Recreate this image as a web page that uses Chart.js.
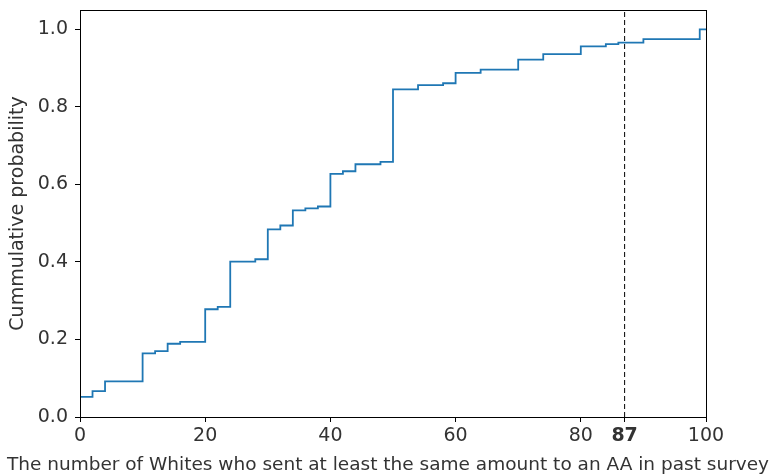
<!DOCTYPE html>
<html lang="en">
<head>
  <meta charset="UTF-8" />
  <title>Cumulative probability</title>
  <script src="https://cdn.jsdelivr.net/npm/chart.js"></script>
  <style>
    body {
      margin: 0;
      background: #fff;
    }
    #wrap {
      width: 776px;
      height: 475px;
    }
  </style>
</head>
<body>
  <div id="wrap">
    <canvas id="ecdf" width="776" height="475"></canvas>
  </div>

  <script>
    // step positions (x) and cumulative probability after each step
    const stepX = [0, 2, 4, 10, 12, 14, 16, 20, 22, 24, 28, 30, 32, 34, 36, 38, 40, 42, 44, 48,
                   50, 54, 58, 60, 64, 70, 74, 80, 84, 86, 90, 99, 100];
    const stepY = [0.052, 0.067, 0.092, 0.164, 0.170, 0.189, 0.194, 0.278, 0.284, 0.401, 0.407,
                   0.484, 0.494, 0.533, 0.538, 0.543, 0.627, 0.634, 0.652, 0.658, 0.845, 0.856,
                   0.861, 0.888, 0.896, 0.922, 0.936, 0.956, 0.962, 0.966, 0.975, 1.0, 1.0];

    const markerX = 87;
    const xTicks = [0, 20, 40, 60, 80, 87, 100];
    const yTicks = [0, 0.2, 0.4, 0.6, 0.8, 1.0];
    const yMax = 1.05;

    const xTitle = "The number of Whites who sent at least the same amount to an AA in past survey";

    const font = "'DejaVu Sans', sans-serif";
    const textColor = "#333";

    // box around the plot area + x title (drawn by hand so it may run wider than the axis)
    const frame = {
      id: "frame",
      afterDatasetsDraw(chart) {
        const a = chart.chartArea;
        const c = chart.ctx;
        c.save();
        c.strokeStyle = "#000";
        c.lineWidth = 1;
        c.strokeRect(a.left + 0.5, a.top + 0.5, a.right - a.left, a.bottom - a.top);
        c.fillStyle = textColor;
        c.font = "18.5px " + font;
        c.textAlign = "center";
        c.textBaseline = "alphabetic";
        c.fillText(xTitle, (a.left + a.right) / 2 - 5, 470);
        c.restore();
      }
    };

    new Chart(document.getElementById("ecdf"), {
      type: "line",
      data: {
        datasets: [
          {
            data: stepX.map((x, i) => ({ x: x, y: stepY[i] })),
            stepped: "before",
            borderColor: "#1f77b4",
            borderWidth: 1.8,
            pointRadius: 0,
            fill: false
          },
          {
            data: [{ x: markerX, y: 0 }, { x: markerX, y: yMax }],
            borderColor: "#000",
            borderWidth: 1,
            borderDash: [5, 3],
            pointRadius: 0,
            fill: false
          }
        ]
      },
      options: {
        responsive: false,
        animation: false,
        layout: { padding: { left: 0, right: 70, top: 10, bottom: 0 } },
        plugins: {
          legend: { display: false },
          tooltip: { enabled: false }
        },
        scales: {
          x: {
            type: "linear",
            min: 0,
            max: 100,
            afterBuildTicks: s => { s.ticks = xTicks.map(v => ({ value: v })); },
            afterFit: s => { s.height = 58; s.paddingLeft = 0; s.paddingRight = 0; },
            grid: { drawOnChartArea: false, drawTicks: true, tickLength: 5, color: "#000" },
            border: { display: true, color: "#000" },
            ticks: {
              color: textColor,
              padding: 3,
              maxRotation: 0,
              autoSkip: false,
              font: ctx => ({
                family: font,
                size: 19,
                weight: ctx.tick && ctx.tick.value === markerX ? "bold" : "normal"
              })
            }
          },
          y: {
            min: 0,
            max: yMax,
            afterBuildTicks: s => { s.ticks = yTicks.map(v => ({ value: v })); },
            afterFit: s => { s.width = 80; s.paddingTop = 0; s.paddingBottom = 0; },
            grid: { drawOnChartArea: false, drawTicks: true, tickLength: 5, color: "#000" },
            border: { display: true, color: "#000" },
            ticks: {
              color: textColor,
              padding: 7,
              font: { family: font, size: 19 },
              callback: v => v.toFixed(1)
            },
            title: {
              display: true,
              text: "Cummulative probability",
              color: textColor,
              font: { family: font, size: 19 },
              padding: { top: 7, bottom: 0 }
            }
          }
        }
      },
      plugins: [frame]
    });
  </script>
</body>
</html>
